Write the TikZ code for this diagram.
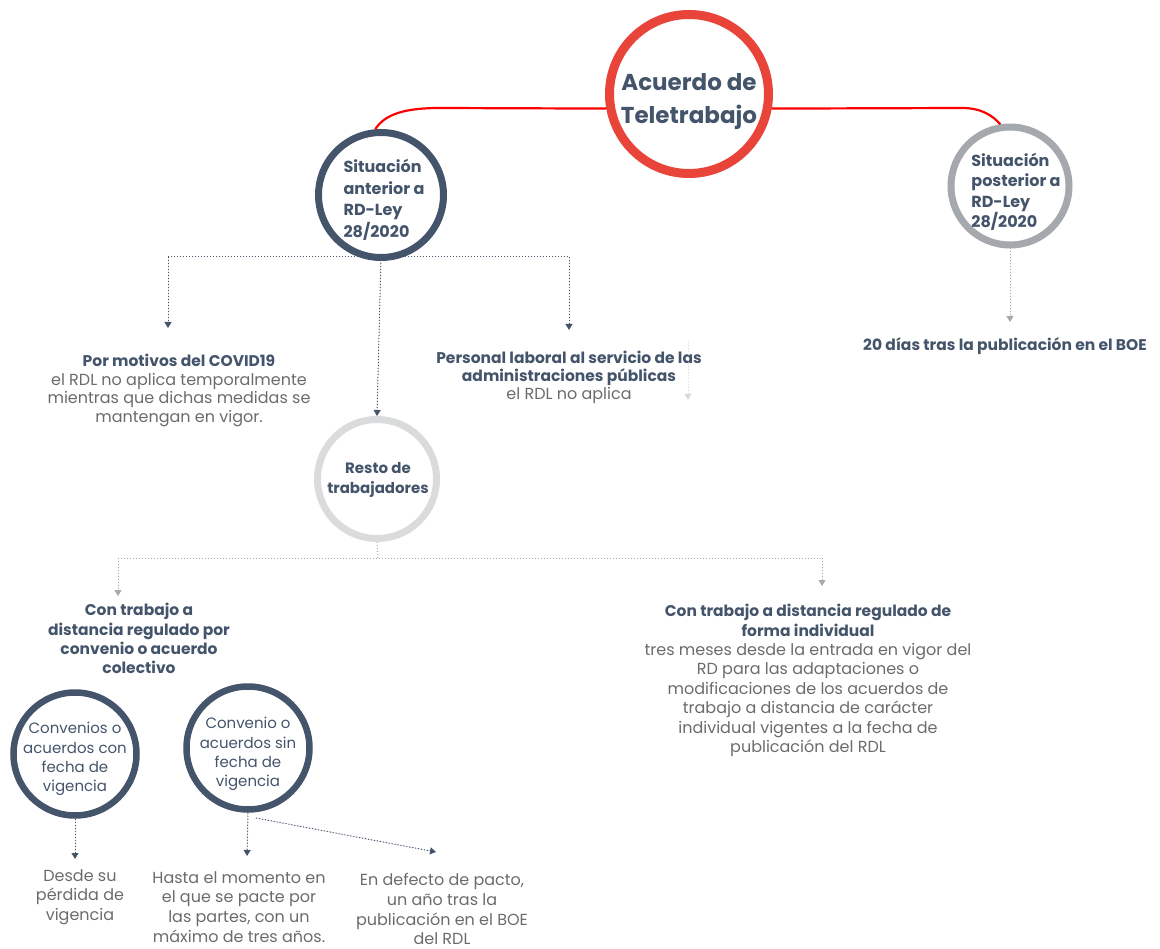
\documentclass[tikz,border=0pt]{standalone}
\usepackage{fontspec}
\setmainfont{Poppins}
\usetikzlibrary{arrows.meta}
\definecolor{slate}{HTML}{44546A}
\definecolor{bodygray}{HTML}{6B6B6B}
\definecolor{mainred}{HTML}{E8443A}
\definecolor{midgray}{HTML}{A5A8AC}
\definecolor{lightgray}{HTML}{DADBDC}
\definecolor{arrowgray}{HTML}{A6A8AB}
\newcommand{\bodyline}[1]{{\color{bodygray}\mdseries\fontsize{16}{19}\selectfont #1}}
\tikzset{
  ring/.style={circle, draw, line width=7pt, inner sep=0pt},
  lbl/.style={inner sep=0pt, text=slate, font=\bfseries\fontsize{16}{21.5}\selectfont},
  body/.style={align=center, text=bodygray, font=\fontsize{16}{19.8}\selectfont, inner sep=0pt},
  head/.style={align=center, text=slate, font=\bfseries\fontsize{15.5}{19.4}\selectfont, inner sep=0pt},
  dl/.style={dotted, line width=1pt, draw=slate},
  dlg/.style={dotted, line width=1pt, draw=arrowgray},
  tip/.style={-{Triangle[width=7pt,length=6pt]}},
}
\begin{document}
\begin{tikzpicture}[x=1pt,y=-1pt]
\useasboundingbox (0,0) rectangle (1160,949);
% circles
\node[ring, draw=mainred, line width=9pt, minimum size=159pt] (main) at (689,94) {};
\node[lbl, align=center, font=\bfseries\fontsize{23}{33}\selectfont] (mainl) at (689,102) {Acuerdo de\\Teletrabajo};
\node[ring, draw=slate, minimum size=125pt] (ant) at (381,195) {};
\node[lbl, align=left] (antl) at (384,200) {Situación\\anterior a\\RD-Ley\\28/2020};
\node[ring, draw=midgray, minimum size=118pt] (post) at (1010,186) {};
\node[lbl, align=left, font=\bfseries\fontsize{16}{20.5}\selectfont] (postl) at (1016,192) {Situación\\posterior a\\RD-Ley\\28/2020};
\node[ring, draw=lightgray, minimum size=119pt] (resto) at (377,479) {};
\node[lbl, align=center, font=\bfseries\fontsize{15}{20}\selectfont] (restol) at (378,480) {Resto de\\trabajadores};
\node[ring, draw=slate, line width=6.5pt, minimum size=123pt] (conv1) at (75,754) {};
\node[lbl, align=center, font=\fontsize{15}{19.3}\selectfont] (conv1l) at (75,759) {Convenios o\\acuerdos con\\fecha de\\vigencia};
\node[ring, draw=slate, line width=6.5pt, minimum size=123pt] (conv2) at (248,748) {};
\node[lbl, align=center, font=\fontsize{15}{19.3}\selectfont] (conv2l) at (248,754) {Convenio o\\acuerdos sin\\fecha de\\vigencia};
% red connectors
\coordinate (rl) at (440,108);
\coordinate (rr) at (962,108);
\draw[red, line width=2.2pt] (main.190.8) -- (rl) .. controls (405,108) and (385,114) .. (ant.95);
\draw[red, line width=2.2pt] (main.-10.8) -- (rr) .. controls (982,108) and (993,116) .. (post.99);
% text nodes
\node[head] (boe) at (1005,346) {20 días tras la publicación en el BOE};
\node[head, anchor=north, font=\bfseries\fontsize{15.5}{18.5}\selectfont] (covid) at (179,354) {Por motivos del COVID19\\\bodyline{el RDL no aplica temporalmente}\\\bodyline{mientras que dichas medidas se}\\\bodyline{mantengan en vigor.}};
\node[head, anchor=north, font=\bfseries\fontsize{15.5}{18}\selectfont] (pers) at (569,351) {Personal laboral al servicio de las\\administraciones públicas\\\bodyline{el RDL no aplica}};
\node[head, anchor=north] (colect) at (139,603) {Con trabajo a\\distancia regulado por\\convenio o acuerdo\\colectivo};
\node[head, anchor=north] (indiv) at (808,604) {Con trabajo a distancia regulado de\\forma individual\\\bodyline{tres meses desde la entrada en vigor del}\\\bodyline{RD para las adaptaciones o}\\\bodyline{modificaciones de los acuerdos de}\\\bodyline{trabajo a distancia de carácter}\\\bodyline{individual vigentes a la fecha de}\\\bodyline{publicación del RDL}};
\node[body, anchor=north] (desde) at (80,869) {Desde su\\pérdida de\\vigencia};
\node[body, anchor=north] (hasta) at (239,871) {Hasta el momento en\\el que se pacte por\\las partes, con un\\máximo de tres años.};
\node[body, anchor=north] (defecto) at (442,873) {En defecto de pacto,\\un año tras la\\publicación en el BOE\\del RDL};
% dotted connectors from "anterior"
\coordinate (h1) at (168,257);
\coordinate (h2) at (569,257);
\coordinate (t1) at (168,328);
\coordinate (t2) at (569,330);
\draw[dl] (h1) -- (h2);
\draw[dl, tip, fill=slate] (h1) -- (t1);
\draw[dl, tip, fill=slate] (h2) -- (t2);
\draw[dl, tip, fill=slate] (ant.south |- h1) -- (resto.north);
% faint stray arrow
\coordinate (s1) at (688,342);
\coordinate (s2) at (688,400);
\draw[dotted, line width=1pt, draw=lightgray, tip, fill=lightgray] (s1) -- (s2);
% posterior
\coordinate (t3) at (1010,322);
\draw[dlg, tip, fill=arrowgray] (post.south) -- (t3);
% from resto
\coordinate (g0) at (378,558);
\coordinate (g1) at (118,558);
\coordinate (g2) at (822,558);
\coordinate (t4) at (118,596);
\coordinate (t5) at (822,586);
\draw[dlg] (resto.south) -- (g0);
\draw[dlg] (g1) -- (g2);
\draw[dlg, tip, fill=arrowgray] (g1) -- (t4);
\draw[dlg, tip, fill=arrowgray] (g2) -- (t5);
% from conventions
\coordinate (t6) at (75,859);
\coordinate (t7) at (247,856);
\coordinate (t8) at (436,852);
\coordinate (c2s) at (256,818);
\draw[dl, tip, fill=slate] (conv1.south) -- (t6);
\draw[dl, tip, fill=slate] (conv2.south) -- (t7);
\draw[dl, tip, fill=slate] (c2s) -- (t8);
\end{tikzpicture}
\end{document}
